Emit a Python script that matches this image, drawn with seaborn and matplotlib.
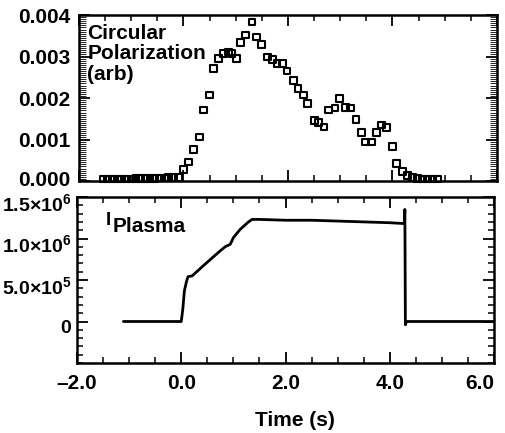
import numpy as np
import pandas as pd
import seaborn as sns
import matplotlib
matplotlib.use("Agg")
import matplotlib.pyplot as plt
import matplotlib.transforms as mtransforms
from matplotlib.ticker import MultipleLocator

# Circular polarization samples (time in s, signal in arb units)
cp_time = [-1.54, -1.45, -1.36, -1.27, -1.18, -1.09, -1.00, -0.91, -0.82, -0.73,
           -0.64, -0.55, -0.46, -0.37, -0.28, -0.19, -0.10,
           0.00, 0.10, 0.19, 0.30, 0.38, 0.50, 0.57, 0.67, 0.76, 0.86, 0.93, 1.01,
           1.09, 1.19, 1.31, 1.39, 1.49, 1.60, 1.70, 1.79, 1.89, 1.98, 2.10, 2.19,
           2.29, 2.38, 2.50, 2.59, 2.69, 2.78, 2.90, 2.99, 3.10, 3.20, 3.30, 3.41,
           3.49, 3.60, 3.70, 3.79, 3.89, 4.00, 4.08, 4.19, 4.29,
           4.38, 4.48, 4.57, 4.67, 4.76, 4.86]
cp_value = [0.00005, 0.00005, 0.00005, 0.00005, 0.00005, 0.00005, 0.00005, 0.00006, 0.00006, 0.00006,
            0.00006, 0.00006, 0.00007, 0.00007, 0.00008, 0.00008, 0.00009,
            0.00027, 0.00046, 0.00075, 0.00106, 0.00171, 0.00207, 0.00272, 0.00296, 0.00308, 0.00311, 0.00308, 0.00296,
            0.00333, 0.00352, 0.00383, 0.00347, 0.00328, 0.00299, 0.00292, 0.00284, 0.00284, 0.00265, 0.00243, 0.00222,
            0.00207, 0.00186, 0.00145, 0.00140, 0.00130, 0.00171, 0.00176, 0.00198, 0.00178, 0.00176, 0.00149, 0.00116,
            0.00094, 0.00094, 0.00116, 0.00135, 0.00128, 0.00084, 0.00043, 0.00022, 0.00014,
            0.00008, 0.00006, 0.00005, 0.00005, 0.00005, 0.00005]

# Plasma current trace (time in s, current in A)
ip_time = [-1.11, -0.80, -0.50, -0.20, 0.00, 0.03, 0.06, 0.10, 0.13, 0.21, 0.42, 0.69,
           0.84, 0.94, 1.00, 1.13, 1.29, 1.36, 1.50, 2.00, 2.50, 3.00, 3.50, 4.00,
           4.28, 4.29, 4.30, 4.32, 4.60, 5.00, 5.50, 6.00]
ip_value = [0.0, 0.0, 0.0, 0.0, 0.0, 0.15e6, 0.37e6, 0.48e6, 0.54e6, 0.55e6, 0.67e6, 0.82e6,
            0.90e6, 0.93e6, 1.01e6, 1.11e6, 1.20e6, 1.23e6, 1.23e6, 1.22e6, 1.22e6, 1.21e6, 1.20e6, 1.19e6,
            1.18e6, 1.35e6, -0.04e6, 0.0, 0.0, 0.0, 0.0, 0.0]

x_ticks = [-2, 0, 2, 4, 6]
x_ticklabels = ["\u20132.0", "0.0", "2.0", "4.0", "6.0"]
cp_ticks = [0.000, 0.001, 0.002, 0.003, 0.004]
cp_ticklabels = ["0.000", "0.001", "0.002", "0.003", "0.004"]
ip_ticks = [0, 0.5e6, 1.0e6, 1.5e6]
ip_ticklabels = ["0", "5.0\u00d710$^{5}$", "1.0\u00d710$^{6}$", "1.5\u00d710$^{6}$"]

sns.set_style("ticks", {"axes.edgecolor": "black", "text.color": "black",
                        "xtick.color": "black", "ytick.color": "black",
                        "axes.labelcolor": "black"})
plt.rcParams['font.family'] = ['Liberation Sans', 'DejaVu Sans']
plt.rcParams['font.weight'] = 'bold'
plt.rcParams['font.size'] = 15
plt.rcParams['mathtext.fontset'] = 'custom'
plt.rcParams['mathtext.rm'] = 'Liberation Sans:bold'
plt.rcParams['mathtext.bf'] = 'Liberation Sans:bold'
plt.rcParams['mathtext.default'] = 'bf'

fig = plt.figure(figsize=(5.06, 4.33), dpi=100)
ax1 = fig.add_axes([79 / 506, 1 - 181 / 433, 418 / 506, 166 / 433])
ax2 = fig.add_axes([77 / 506, 1 - 363 / 433, 417 / 506, 166 / 433])

cp = pd.DataFrame({"time": cp_time, "cp": cp_value})
ip = pd.DataFrame({"time": ip_time, "ip": ip_value})

sns.scatterplot(data=cp, x="time", y="cp", ax=ax1, marker="s", s=24,
                facecolor="none", edgecolor="black", linewidth=1.5, clip_on=False)
sns.lineplot(data=ip, x="time", y="ip", ax=ax2, color="black", linewidth=2)

for ax in (ax1, ax2):
    ax.set_xlim(-2, 6)
    ax.set_xticks(x_ticks)
    ax.xaxis.set_minor_locator(MultipleLocator(0.5))
    ax.tick_params(which="both", direction="in", top=True, right=True, colors="black")
    ax.tick_params(which="major", length=8, width=1.3, labelsize=15)
    ax.tick_params(which="minor", length=4, width=1.1)
    for sp in ax.spines.values():
        sp.set_linewidth(1.8)
        sp.set_color("black")
    ax.set_xlabel("")
    ax.set_ylabel("")

ax1.set_ylim(0, 0.004)
ax1.set_yticks(cp_ticks)
ax1.set_yticklabels(cp_ticklabels)
ax1.yaxis.set_minor_locator(MultipleLocator(0.00005))
ax1.tick_params(axis="y", which="minor", length=5, width=0.6)
ax1.tick_params(axis="x", labelbottom=False)
ax1.tick_params(axis="y", pad=6)
ax1.text(0.02, 0.945, "Circular\nPolarization\n(arb)", transform=ax1.transAxes,
         ha="left", va="top", fontsize=15, fontweight="bold", linespacing=1.08,
         color="black")

ax2.set_ylim(-0.5e6, 1.5e6)
ax2.set_yticks(ip_ticks)
ax2.set_yticklabels(ip_ticklabels)
ax2.yaxis.set_minor_locator(MultipleLocator(1e5))
ax2.set_xticklabels(x_ticklabels)
ax2.get_xticklabels()[-1].set_ha("right")
ax2.tick_params(axis="x", pad=8)
ax2.tick_params(axis="y", pad=4, labelsize=14)
ax2.text(0.07, 0.83, "I", transform=ax2.transAxes, ha="left", va="baseline",
         fontsize=13.5, fontweight="bold", color="black")
ax2.text(0.085, 0.79, "Plasma", transform=ax2.transAxes, ha="left", va="baseline",
         fontsize=15, fontweight="bold", color="black")

# nudge y tick labels like the original: lowest top label up, lower panel labels down
up = mtransforms.ScaledTranslation(0, 0.03, fig.dpi_scale_trans)
down = mtransforms.ScaledTranslation(0, -0.05, fig.dpi_scale_trans)
lab0 = ax1.get_yticklabels()[0]
lab0.set_transform(lab0.get_transform() + up)
for lab in ax2.get_yticklabels():
    lab.set_transform(lab.get_transform() + down)

fig.text(295 / 506, 1 - 420 / 433, "Time (s)", ha="center", va="center",
         fontsize=15, fontweight="bold", color="black")

fig.savefig("out.png", dpi=100)
